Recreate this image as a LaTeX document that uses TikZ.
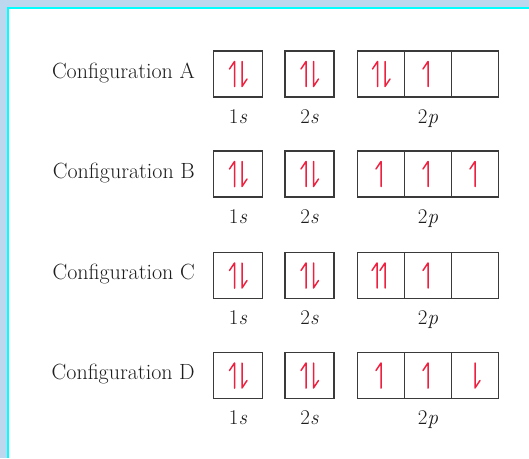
\documentclass[tikz,border=0pt]{standalone}
\usetikzlibrary{calc}
\definecolor{bgblue}{HTML}{BDD7EE}
\definecolor{edgecyan}{HTML}{00FFFF}
\definecolor{spinred}{HTML}{EE2040}
\definecolor{boxgray}{HTML}{3A3A3A}
\definecolor{txtgray}{HTML}{1E1E1E}
\begin{document}
\begin{tikzpicture}[x=1pt,y=-1pt,
  orb/.style={draw=boxgray,line width=1.4pt,minimum width=#1,minimum height=46pt,inner sep=0pt,outer sep=0pt},
  lab/.style={text=txtgray,font=\fontsize{21}{25}\selectfont,inner sep=0pt,anchor=base},
  cfg/.style={text=txtgray,font=\fontsize{22}{26}\selectfont,inner sep=0pt,anchor=base east},
  spin/.style={draw=spinred,line width=1.5pt,line join=round,line cap=round},
  spinup/.pic={\draw[spin] (0,12.5) -- (0,-12.5) -- (-5,-5);},
  spindown/.pic={\draw[spin] (0,-12.5) -- (0,12.5) -- (5,5);},
  pairud/.pic={\draw[spin] (-3.5,12.5) -- (-3.5,-12.5) -- (-8.5,-5);
               \draw[spin] (4,-12.5) -- (4,12.5) -- (9,5);},
  pairuu/.pic={\draw[spin] (-4,12.5) -- (-4,-12.5) -- (-9,-5);
               \draw[spin] (4,12.5) -- (4,-12.5) -- (-1,-5);}
]
\useasboundingbox (0,0) rectangle (529,458);
\fill[bgblue] (0,0) rectangle (529,458);
\fill[white] (8,8) rectangle (529,458);
\draw[edgecyan,line width=1.6pt] (8,458) -- (8,8) -- (529,8);

\foreach \r/\y in {A/74,B/174,C/275.5,D/375.5}{
  \node[orb=49pt] (\r1s) at (238,\y) {};
  \node[orb=49pt] (\r2s) at (309.5,\y) {};
  \node[orb=47pt] (\r2pa) at (381,\y) {};
  \node[orb=47pt] (\r2pb) at (428,\y) {};
  \node[orb=47pt] (\r2pc) at (475,\y) {};
  \node[lab] (\r1sl) at ($(\r1s.south)+(0,26)$) {1\textit{s}};
  \node[lab] (\r2sl) at ($(\r2s.south)+(0,26)$) {2\textit{s}};
  \node[lab] (\r2pl) at ($(\r2pb.south)+(0,26)$) {2\textit{p}};
  \node[cfg] (\r cfg) at (195,\y+4) {Configuration \r};
}

% Configuration A
\pic at (A1s.center) {pairud};
\pic at (A2s.center) {pairud};
\pic at (A2pa.center) {pairud};
\pic at (A2pb.center) {spinup};
% Configuration B
\pic at (B1s.center) {pairud};
\pic at (B2s.center) {pairud};
\pic at (B2pa.center) {spinup};
\pic at (B2pb.center) {spinup};
\pic at (B2pc.center) {spinup};
% Configuration C
\pic at (C1s.center) {pairud};
\pic at (C2s.center) {pairud};
\pic at (C2pa.center) {pairuu};
\pic at (C2pb.center) {spinup};
% Configuration D
\pic at (D1s.center) {pairud};
\pic at (D2s.center) {pairud};
\pic at (D2pa.center) {spinup};
\pic at (D2pb.center) {spinup};
\pic at (D2pc.center) {spindown};
\end{tikzpicture}
\end{document}
